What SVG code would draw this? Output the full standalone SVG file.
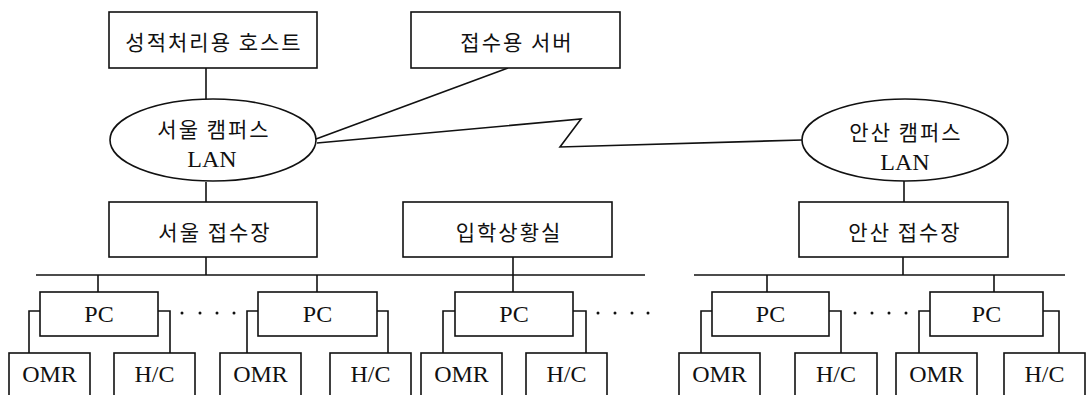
<svg xmlns="http://www.w3.org/2000/svg" width="1087" height="395" viewBox="0 0 1087 395">
<style>
  .b { fill: #fff; stroke: #111; stroke-width: 1.6; }
  .c line, .c polyline { stroke: #111; stroke-width: 1.6; fill: none; }
  .k { font-family: "Noto Sans CJK KR", sans-serif; font-size: 21px; letter-spacing: 2px; fill: #111; text-anchor: middle; dominant-baseline: central; }
  .l { font-family: "Liberation Serif", serif; font-size: 24px; fill: #111; text-anchor: middle; }
  .dot { fill: #111; }
</style>
<g class="c" id="connectors">
  <line x1="206" y1="68" x2="206" y2="100"/>
  <line x1="508" y1="68" x2="316" y2="139"/>
  <polyline points="317,143 581,119 560,147 802,140"/>
  <line x1="206" y1="182" x2="206" y2="202"/>
  <line x1="904" y1="181" x2="904" y2="202"/>
  <line x1="206" y1="257" x2="206" y2="275"/>
  <line x1="513" y1="257" x2="513" y2="292"/>
  <line x1="903" y1="257" x2="903" y2="275"/>
  <line x1="36" y1="275" x2="645" y2="275"/>
  <line x1="694" y1="275" x2="1065" y2="275"/>
  <line x1="98" y1="275" x2="98" y2="292"/>
  <line x1="317" y1="275" x2="317" y2="292"/>
  <line x1="767" y1="275" x2="767" y2="292"/>
  <line x1="994" y1="275" x2="994" y2="292"/>
  <polyline points="40,311 29,311 29,353"/>
  <polyline points="158,311 170,311 170,353"/>
  <polyline points="258,311 247,311 247,353"/>
  <polyline points="377,311 388,311 388,353"/>
  <polyline points="455,311 443,311 443,353"/>
  <polyline points="573,311 586,311 586,353"/>
  <polyline points="712,311 701,311 701,353"/>
  <polyline points="829,311 841,311 841,353"/>
  <polyline points="930,311 919,311 919,353"/>
  <polyline points="1043,311 1059,311 1059,353"/>
</g>
<g id="dots">
  <circle class="dot" cx="182" cy="313" r="1.5"/><circle class="dot" cx="200" cy="313" r="1.5"/><circle class="dot" cx="217" cy="313" r="1.5"/><circle class="dot" cx="234" cy="313" r="1.5"/>
  <circle class="dot" cx="598" cy="313" r="1.5"/><circle class="dot" cx="615" cy="313" r="1.5"/><circle class="dot" cx="632" cy="313" r="1.5"/><circle class="dot" cx="648" cy="313" r="1.5"/>
  <circle class="dot" cx="855" cy="313" r="1.5"/><circle class="dot" cx="872" cy="313" r="1.5"/><circle class="dot" cx="889" cy="313" r="1.5"/><circle class="dot" cx="906" cy="313" r="1.5"/>
</g>
<g id="host"><rect class="b" x="109" y="12" width="208" height="56"/><text class="k" x="214" y="41">성적처리용 호스트</text></g>
<g id="server"><rect class="b" x="411" y="12" width="209" height="56"/><text class="k" x="517" y="41">접수용 서버</text></g>
<g id="seoul-lan"><ellipse class="b" cx="213" cy="140" rx="103" ry="41"/><text class="k" x="214" y="128">서울 캠퍼스</text><text class="l" x="212" y="167">LAN</text></g>
<g id="ansan-lan"><ellipse class="b" cx="905" cy="140" rx="103" ry="41"/><text class="k" x="906" y="131">안산 캠퍼스</text><text class="l" x="905" y="170">LAN</text></g>
<g id="seoul-desk"><rect class="b" x="109" y="202" width="208" height="55"/><text class="k" x="215" y="231">서울 접수장</text></g>
<g id="status-room"><rect class="b" x="403" y="202" width="209" height="55"/><text class="k" x="509" y="231">입학상황실</text></g>
<g id="ansan-desk"><rect class="b" x="799" y="202" width="209" height="55"/><text class="k" x="905" y="231">안산 접수장</text></g>
<g id="pc1"><rect class="b" x="40" y="292" width="118" height="44"/><text class="l" x="99" y="322">PC</text></g>
<g id="pc2"><rect class="b" x="258" y="292" width="119" height="44"/><text class="l" x="317.5" y="322">PC</text></g>
<g id="pc3"><rect class="b" x="455" y="292" width="118" height="44"/><text class="l" x="514" y="322">PC</text></g>
<g id="pc4"><rect class="b" x="712" y="292" width="117" height="44"/><text class="l" x="770.5" y="322">PC</text></g>
<g id="pc5"><rect class="b" x="930" y="292" width="113" height="44"/><text class="l" x="986.5" y="322">PC</text></g>
<g id="omr1"><rect class="b" x="9" y="353" width="81" height="60"/><text class="l" x="49.5" y="382">OMR</text></g>
<g id="hc1"><rect class="b" x="114" y="353" width="81" height="60"/><text class="l" x="154.5" y="382">H/C</text></g>
<g id="omr2"><rect class="b" x="220" y="353" width="81" height="60"/><text class="l" x="260.5" y="382">OMR</text></g>
<g id="hc2"><rect class="b" x="330" y="353" width="81" height="60"/><text class="l" x="370.5" y="382">H/C</text></g>
<g id="omr3"><rect class="b" x="421" y="353" width="81" height="60"/><text class="l" x="461.5" y="382">OMR</text></g>
<g id="hc3"><rect class="b" x="526" y="353" width="81" height="60"/><text class="l" x="566.5" y="382">H/C</text></g>
<g id="omr4"><rect class="b" x="679" y="353" width="81" height="60"/><text class="l" x="719.5" y="382">OMR</text></g>
<g id="hc4"><rect class="b" x="795" y="353" width="82" height="60"/><text class="l" x="836" y="382">H/C</text></g>
<g id="omr5"><rect class="b" x="896" y="353" width="81" height="60"/><text class="l" x="936.5" y="382">OMR</text></g>
<g id="hc5"><rect class="b" x="1004" y="353" width="81" height="60"/><text class="l" x="1044.5" y="382">H/C</text></g>
</svg>
